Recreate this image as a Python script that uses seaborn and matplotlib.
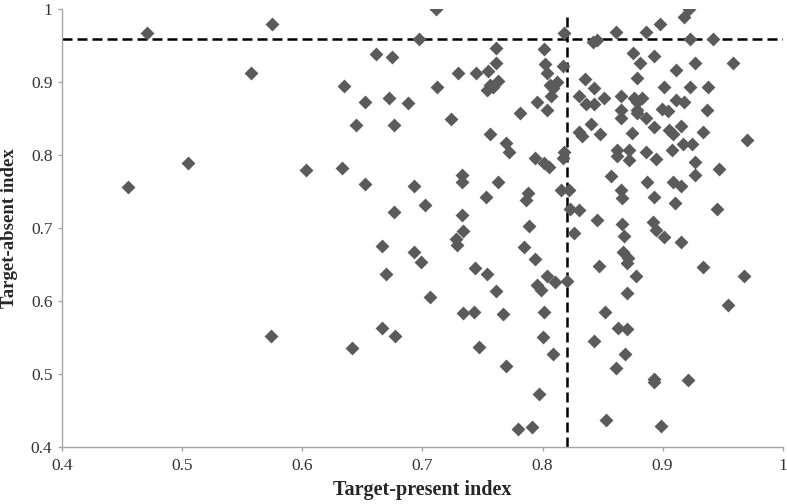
import pandas as pd
import seaborn as sns
import matplotlib.pyplot as plt

# values
present = [0.455, 0.471, 0.505, 0.557, 0.575, 0.574, 0.603, 0.633, 0.635, 0.641,
           0.645, 0.652, 0.652, 0.661, 0.666, 0.666, 0.670, 0.672, 0.675, 0.676,
           0.676, 0.677, 0.688, 0.693, 0.693, 0.699, 0.697, 0.702, 0.706, 0.711,
           0.712, 0.724, 0.728, 0.729, 0.7295, 0.733, 0.733, 0.733, 0.734, 0.734,
           0.743, 0.744, 0.745, 0.7475, 0.753, 0.754, 0.754, 0.755, 0.756, 0.756,
           0.759, 0.761, 0.761, 0.761, 0.763, 0.763, 0.7675, 0.770, 0.770, 0.772,
           0.780, 0.781, 0.785, 0.786, 0.788, 0.789, 0.791, 0.7935, 0.7935, 0.795,
           0.795, 0.797, 0.799, 0.800, 0.801, 0.801, 0.801, 0.802, 0.804, 0.804,
           0.804, 0.805, 0.806, 0.807, 0.809, 0.809, 0.810, 0.812, 0.815, 0.817,
           0.817, 0.8175, 0.8175, 0.820, 0.822, 0.823, 0.826, 0.830, 0.830, 0.830,
           0.833, 0.835, 0.836, 0.840, 0.842, 0.8425, 0.843, 0.843, 0.845, 0.845,
           0.847, 0.8475, 0.851, 0.852, 0.853, 0.857, 0.861, 0.861, 0.862, 0.862,
           0.863, 0.865, 0.865, 0.865, 0.865, 0.866, 0.866, 0.867, 0.8675, 0.869,
           0.870, 0.870, 0.870, 0.871, 0.872, 0.872, 0.8745, 0.875, 0.876, 0.878,
           0.879, 0.879, 0.879, 0.879, 0.881, 0.883, 0.886, 0.886, 0.886, 0.887,
           0.892, 0.8925, 0.8925, 0.8925, 0.8925, 0.893, 0.8945, 0.8945, 0.8975, 0.899,
           0.8995, 0.901, 0.901, 0.9045, 0.9056, 0.908, 0.909, 0.909, 0.910, 0.911,
           0.911, 0.915, 0.9153, 0.9156, 0.9175, 0.9175, 0.917, 0.921, 0.922, 0.9225,
           0.923, 0.9245, 0.927, 0.927, 0.927, 0.9337, 0.9337, 0.937, 0.9375, 0.942,
           0.9453, 0.9467, 0.9545, 0.9587, 0.968, 0.970]
absent = [0.756, 0.968, 0.790, 0.913, 0.980, 0.553, 0.780, 0.782, 0.895, 0.536,
          0.842, 0.761, 0.873, 0.939, 0.676, 0.564, 0.637, 0.879, 0.935, 0.841,
          0.722, 0.553, 0.871, 0.758, 0.667, 0.654, 0.960, 0.732, 0.606, 1.000,
          0.893, 0.850, 0.685, 0.677, 0.913, 0.773, 0.763, 0.718, 0.697, 0.584,
          0.586, 0.645, 0.913, 0.537, 0.743, 0.637, 0.890, 0.916, 0.829, 0.896,
          0.893, 0.947, 0.926, 0.614, 0.902, 0.763, 0.583, 0.511, 0.817, 0.805,
          0.425, 0.858, 0.675, 0.739, 0.748, 0.703, 0.428, 0.797, 0.6575, 0.873,
          0.623, 0.473, 0.6155, 0.5515, 0.945, 0.789, 0.585, 0.925, 0.913, 0.862,
          0.634, 0.784, 0.896, 0.881, 0.892, 0.528, 0.627, 0.901, 0.7525, 0.923,
          0.797, 0.968, 0.805, 0.628, 0.7525, 0.727, 0.694, 0.725, 0.832, 0.881,
          0.826, 0.9045, 0.870, 0.843, 0.955, 0.870, 0.892, 0.5456, 0.958, 0.711,
          0.648, 0.829, 0.879, 0.585, 0.438, 0.772, 0.969, 0.508, 0.807, 0.799,
          0.563, 0.881, 0.862, 0.851, 0.7525, 0.741, 0.706, 0.667, 0.690, 0.528,
          0.652, 0.612, 0.562, 0.659, 0.807, 0.793, 0.830, 0.940, 0.879, 0.634,
          0.9055, 0.873, 0.862, 0.8575, 0.926, 0.879, 0.969, 0.851, 0.804, 0.763,
          0.708, 0.839, 0.743, 0.490, 0.494, 0.936, 0.7945, 0.698, 0.980, 0.4296,
          0.864, 0.893, 0.6885, 0.861, 0.835, 0.807, 0.829, 0.763, 0.734, 0.917,
          0.876, 0.681, 0.758, 0.840, 0.989, 0.873, 0.8155, 0.492, 1.000, 0.893,
          0.959, 0.8155, 0.927, 0.791, 0.773, 0.8315, 0.6466, 0.862, 0.893, 0.959,
          0.727, 0.781, 0.595, 0.927, 0.634, 0.821]

x_cut = 0.82
y_cut = 0.96
ticks = [0.4, 0.5, 0.6, 0.7, 0.8, 0.9, 1.0]
tick_labels = ["0.4", "0.5", "0.6", "0.7", "0.8", "0.9", "1"]

data = pd.DataFrame({"present": present, "absent": absent})

sns.set_style("white")
plt.rcParams['font.family'] = ['Liberation Serif', 'DejaVu Serif']

fig = plt.figure(figsize=(7.87, 5.04), dpi=100)
ax = fig.add_axes([0.079, 0.1125, 0.9155, 0.869])

sns.scatterplot(x="present", y="absent", data=data, marker="D", s=50,
                color="#5b5b5b", linewidth=0, ax=ax, zorder=3)

# cut-off lines
ax.axhline(y_cut, color="black", lw=1.8, dashes=(4, 2), zorder=2)
ax.axvline(x_cut, ymax=0.985, color="black", lw=1.8, dashes=(4, 2), zorder=2)

ax.set_xlim(0.4, 1.0)
ax.set_ylim(0.4, 1.0)
ax.set_xticks(ticks)
ax.set_xticklabels(tick_labels)
ax.set_yticks(ticks)
ax.set_yticklabels(tick_labels)
ax.tick_params(axis="both", labelsize=12.5, colors="#333333", length=3,
               width=1, direction="out", color="#a6a6a6")
ax.tick_params(axis="x", pad=5)
ax.tick_params(axis="y", pad=4)
ax.tick_params(bottom=True, left=True)

for side in ["top", "right"]:
    ax.spines[side].set_visible(False)
for side in ["left", "bottom"]:
    ax.spines[side].set_color("#a6a6a6")
    ax.spines[side].set_linewidth(1)

ax.set_xlabel("Target-present index", fontsize=14.5, fontweight="bold")
ax.set_ylabel("Target-absent index", fontsize=13.5, fontweight="bold")
ax.xaxis.set_label_coords(0.5, -0.074)
ax.yaxis.set_label_coords(-0.062, 0.5)

plt.savefig("out.png", dpi=100)
